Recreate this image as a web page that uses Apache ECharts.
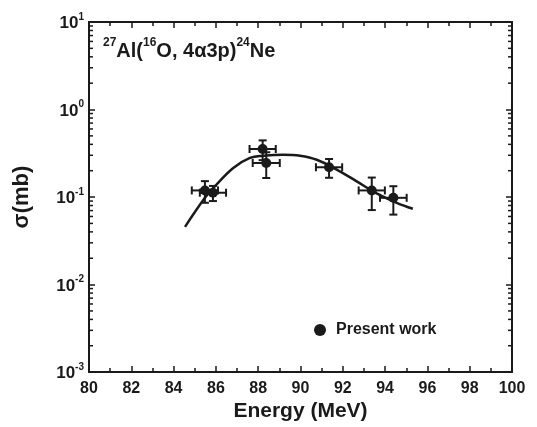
<!DOCTYPE html>
<html><head><meta charset="utf-8">
<script src="https://cdn.jsdelivr.net/npm/echarts@6/dist/echarts.min.js"></script>
<style>html,body{margin:0;padding:0;background:#fff}#c{width:537px;height:427px}</style>
</head><body><div id="c"></div>
<script>
// Data
var energy = [85.48, 85.86, 88.21, 88.38, 91.35, 93.37, 94.39];
var sigma = [0.119, 0.112, 0.354, 0.245, 0.219, 0.119, 0.098];
var energyErr = [0.62, 0.62, 0.62, 0.64, 0.62, 0.62, 0.63];
var sigmaErr = [0.033, 0.022, 0.09, 0.08, 0.053, 0.048, 0.035];
var fitEnergy = [84.54, 85.48, 85.88, 86.82, 87.61, 88.24, 89.19, 89.98, 90.77, 91.71, 92.66, 93.60, 94.55, 95.31];
var fitSigma = [0.0457, 0.098, 0.127, 0.215, 0.280, 0.297, 0.305, 0.297, 0.267, 0.206, 0.151, 0.110, 0.086, 0.0734];
var xTicks = [80, 82, 84, 86, 88, 90, 92, 94, 96, 98, 100];
var yDecades = [-3, -2, -1, 0, 1];
var minorMultipliers = [2, 3, 4, 5, 6, 7, 8, 9];

var minorVals = [];
for (var d = 0; d < yDecades.length - 1; d++) {
  for (var m = 0; m < minorMultipliers.length; m++) {
    minorVals.push([xTicks[0], minorMultipliers[m] * Math.pow(10, yDecades[d])]);
  }
}
var ptData = energy.map(function (e, i) { return [e, sigma[i], energyErr[i], sigmaErr[i]]; });
var fitData = fitEnergy.map(function (e, i) { return [e, fitSigma[i]]; });

var FONT = 'Liberation Sans, Arial, sans-serif';
var INK = '#1a1a1a';
var chart = echarts.init(document.getElementById('c'));
var axisLine = { lineStyle: { color: INK, width: 2 } };

chart.setOption({
  animation: false,
  backgroundColor: '#fff',
  grid: { left: 89, right: 25, top: 22, bottom: 54 },
  title: {
    left: 103, top: 37, padding: 0,
    text: '{s|27}{b|Al(}{s|16}{b|O, 4α3p)}{s|24}{b|Ne}',
    textStyle: {
      rich: {
        b: { fontFamily: FONT, fontWeight: 'bold', fontSize: 20, color: INK, verticalAlign: 'bottom', lineHeight: 24 },
        s: { fontFamily: FONT, fontWeight: 'bold', fontSize: 12, color: INK, verticalAlign: 'top', lineHeight: 24, padding: [0, 0, 10, 0] }
      }
    }
  },
  legend: {
    left: 309, top: 317,
    itemWidth: 12, itemHeight: 12, itemGap: 10,
    data: [{ name: 'Present work', icon: 'circle', itemStyle: { color: INK, opacity: 1 } }],
    textStyle: { fontFamily: FONT, fontWeight: 'bold', fontSize: 16, color: INK, padding: [0, 0, 0, 5] }
  },
  xAxis: [{
    type: 'value', min: 80, max: 100, interval: 2,
    name: 'Energy (MeV)', nameLocation: 'middle', nameGap: 24,
    nameTextStyle: { fontFamily: FONT, fontWeight: 'bold', fontSize: 21, color: INK },
    axisLine: axisLine,
    axisTick: { inside: true, length: 6, lineStyle: { width: 1.5, color: INK } },
    minorTick: { show: true, splitNumber: 2, length: 4, lineStyle: { width: 1.5, color: INK } },
    axisLabel: { margin: 8, fontFamily: FONT, fontWeight: 'bold', fontSize: 16, color: INK },
    splitLine: { show: false }
  }, {
    type: 'value', min: 80, max: 100, interval: 2, position: 'top',
    axisLine: axisLine,
    axisTick: { inside: true, length: 6, lineStyle: { width: 1.5, color: INK } },
    minorTick: { show: true, splitNumber: 2, length: 4, lineStyle: { width: 1.5, color: INK } },
    axisLabel: { show: false }, splitLine: { show: false }
  }],
  yAxis: [{
    type: 'log', logBase: 10, min: 0.001, max: 10,
    name: 'σ(mb)', nameLocation: 'middle', nameGap: 56,
    nameTextStyle: { fontFamily: FONT, fontWeight: 'bold', fontSize: 22, color: INK },
    axisLine: axisLine,
    axisTick: { inside: true, length: 6, lineStyle: { width: 1.5, color: INK } },
    axisLabel: {
      margin: 5,
      formatter: function (v) { return '{b|10}{s|' + Math.round(Math.log10(v)) + '}'; },
      rich: {
        b: { fontFamily: FONT, fontWeight: 'bold', fontSize: 17, color: INK, verticalAlign: 'bottom', lineHeight: 20 },
        s: { fontFamily: FONT, fontWeight: 'bold', fontSize: 10, color: INK, verticalAlign: 'top', lineHeight: 20, padding: [0, 0, 9, 0] }
      }
    },
    splitLine: { show: false }
  }, {
    type: 'log', logBase: 10, min: 0.001, max: 10, position: 'right',
    axisLine: axisLine,
    axisTick: { inside: true, length: 6, lineStyle: { width: 1.5, color: INK } },
    axisLabel: { show: false }, splitLine: { show: false }
  }],
  series: [{
    type: 'custom', silent: true, z: 5,
    renderItem: function (params, api) {
      var cs = params.coordSys;
      var y = api.coord([api.value(0), api.value(1)])[1];
      var st = { stroke: INK, lineWidth: 1.5 };
      return { type: 'group', children: [
        { type: 'line', shape: { x1: cs.x, y1: y, x2: cs.x + 4, y2: y }, style: st },
        { type: 'line', shape: { x1: cs.x + cs.width - 4, y1: y, x2: cs.x + cs.width, y2: y }, style: st }
      ] };
    },
    data: minorVals
  }, {
    type: 'line', name: 'fit', data: fitData, smooth: 0.4, showSymbol: false,
    lineStyle: { color: INK, width: 2.5 }, z: 3
  }, {
    type: 'custom', name: 'errors', z: 4,
    renderItem: function (params, api) {
      var e = api.value(0), s = api.value(1), de = api.value(2), ds = api.value(3);
      var l = api.coord([e - de, s]), r = api.coord([e + de, s]);
      var t = api.coord([e, s + ds]), b = api.coord([e, s - ds]);
      var st = { stroke: INK, lineWidth: 2 };
      var c = 4;
      return { type: 'group', children: [
        { type: 'line', shape: { x1: l[0], y1: l[1], x2: r[0], y2: r[1] }, style: st },
        { type: 'line', shape: { x1: l[0], y1: l[1] - c, x2: l[0], y2: l[1] + c }, style: st },
        { type: 'line', shape: { x1: r[0], y1: r[1] - c, x2: r[0], y2: r[1] + c }, style: st },
        { type: 'line', shape: { x1: t[0], y1: t[1], x2: b[0], y2: b[1] }, style: st },
        { type: 'line', shape: { x1: t[0] - c, y1: t[1], x2: t[0] + c, y2: t[1] }, style: st },
        { type: 'line', shape: { x1: b[0] - c, y1: b[1], x2: b[0] + c, y2: b[1] }, style: st }
      ] };
    },
    data: ptData
  }, {
    type: 'scatter', name: 'Present work', data: ptData, symbol: 'circle', symbolSize: 10,
    itemStyle: { color: INK, opacity: 1 }, z: 6
  }]
});
</script></body></html>
